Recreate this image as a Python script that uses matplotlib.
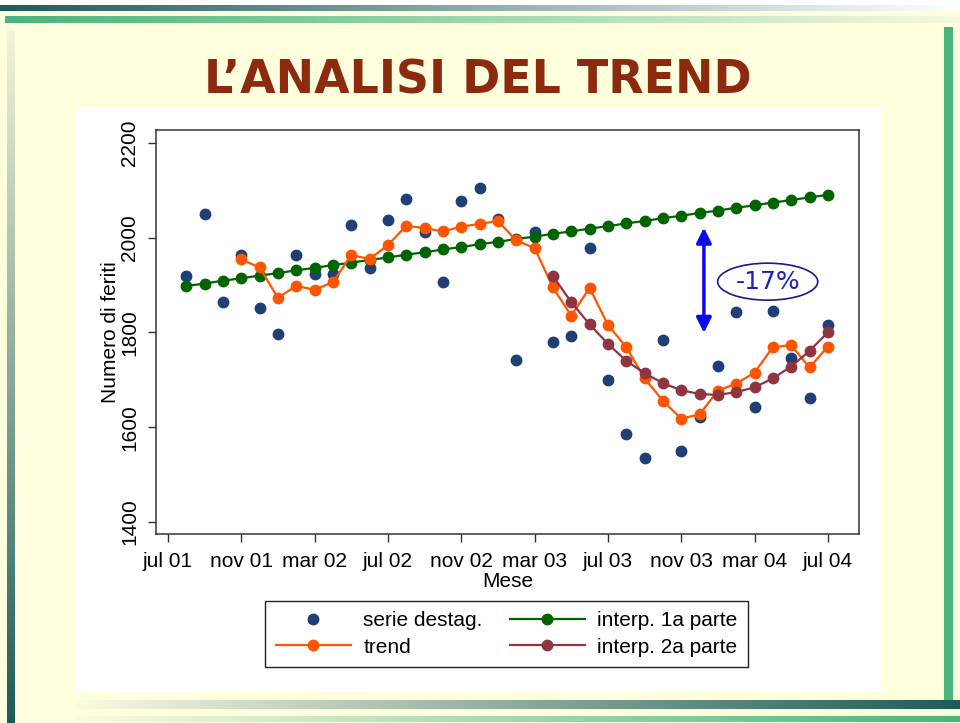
import numpy as np
import matplotlib.pyplot as plt
from matplotlib.patches import Rectangle, Ellipse
from matplotlib.colors import to_rgb

# months counted from jul 2001 (= 0)
months = np.arange(1, 37)
serie_destag = [1919, 2049, 1865, 1963, 1852, 1797, 1963, 1923, 1923, 2027,
                1936, 2037, 2082, 2011, 1906, 2077, 2104, 2039, 1742, 2011,
                1779, 1793, 1978, 1700, 1585, 1534, 1784, 1550, 1622, 1729,
                1842, 1643, 1845, 1745, 1661, 1816]

trend_months = np.arange(4, 37)
trend = [1954, 1937, 1873, 1898, 1890, 1906, 1963, 1955, 1984, 2025,
         2020, 2013, 2023, 2029, 2035, 1994, 1978, 1895, 1835, 1894,
         1816, 1769, 1703, 1656, 1618, 1627, 1677, 1692, 1715, 1769,
         1773, 1726, 1770]

interp1 = [1898, 1903, 1909, 1914, 1920, 1925, 1931, 1936, 1942, 1947,
           1953, 1958, 1964, 1969, 1975, 1980, 1986, 1991, 1997, 2002,
           2008, 2013, 2019, 2024, 2030, 2035, 2041, 2046, 2052, 2057,
           2063, 2068, 2074, 2079, 2085, 2090]

interp2_months = np.arange(21, 37)
interp2 = [1919, 1864, 1817, 1776, 1740, 1714, 1693, 1678, 1670, 1668,
           1674, 1684, 1703, 1728, 1761, 1800]

tick_pos = np.arange(0, 37, 4)
tick_labels = ['jul 01', 'nov 01', 'mar 02', 'jul 02', 'nov 02', 'mar 03',
               'jul 03', 'nov 03', 'mar 04', 'jul 04']

cream = '#ffffde'
teal = '#1d5c58'
green = '#48b57e'

fig = plt.figure(figsize=(9.6, 7.23), dpi=100)
fig.patch.set_facecolor('white')

# slide background, drawn in pixel coordinates
bg = fig.add_axes([0, 0, 1, 1])
bg.axis('off')


def gradient(x0, x1, y0, y1, c1, c2, vertical=False):
    t = np.linspace(0, 1, 256)[:, None]
    img = np.array(to_rgb(c1)) * (1 - t) + np.array(to_rgb(c2)) * t
    img = img[:, None, :] if vertical else img[None, :, :]
    bg.imshow(img, extent=[x0, x1, y1, y0], aspect='auto',
              interpolation='bilinear', zorder=2)


bg.add_patch(Rectangle((0, 11), 960, 712, color=cream, lw=0, zorder=1))
gradient(0, 960, 5, 11, teal, 'white')
gradient(5, 960, 16, 23, green, '#f6f9de')
gradient(7, 15, 30, 723, '#f4f4d8', teal, vertical=True)
bg.add_patch(Rectangle((944, 27), 9, 673, color=green, lw=0, zorder=2))
gradient(75, 960, 700, 709, '#fbfbe0', teal)
gradient(75, 960, 716, 722, '#fbfbe0', green)
bg.add_patch(Rectangle((76, 107), 806, 585, color='white', lw=0, zorder=3))
bg.set_xlim(0, 960)
bg.set_ylim(723, 0)

fig.text(478 / 960, 1 - 93 / 723, 'L\u2019ANALISI DEL TREND', ha='center', va='baseline',
         fontsize=33, fontweight='bold', color='#8b2a0e', family='DejaVu Sans')

# main chart
ax = fig.add_axes([156 / 960, 1 - 534 / 723, 703 / 960, 404 / 723])
ax.set_facecolor('white')

ms = 7.5
ax.plot(months, serie_destag, 'o', color='#1f3f75', ms=ms, label='serie destag.', zorder=2)
ax.plot(months, interp1, '-o', color='#006400', lw=1.6, ms=ms, label='interp. 1a parte', zorder=3)
ax.plot(trend_months, trend, '-o', color='#ff5500', lw=1.6, ms=ms, label='trend', zorder=4)
ax.plot(interp2_months, interp2, '-o', color='#8f3540', lw=1.6, ms=ms, label='interp. 2a parte', zorder=5)

# the gap between the two interpolations
ax.annotate('', xy=(29.24, 2021), xytext=(29.24, 1799),
            arrowprops=dict(arrowstyle='<|-|>,head_length=0.9,head_width=0.45',
                            color='#0a0af0', lw=2.5, shrinkA=0, shrinkB=0), zorder=6)
ax.add_patch(Ellipse((32.72, 1907), 5.46, 78, fill=False, ec='#1a1a8c', lw=1.2, zorder=6))
ax.text(32.72, 1907, '-17%', ha='center', va='center', fontsize=18,
        color='#2020b8', family='DejaVu Sans', zorder=7)

ax.set_xlim(-0.65, 37.7)
ax.set_ylim(1374.6, 2227)
ax.set_xticks(tick_pos)
ax.set_xticklabels(tick_labels, family='Liberation Sans', fontsize=15)
ax.set_yticks([1400, 1600, 1800, 2000, 2200])
ax.set_yticklabels(['1400', '1600', '1800', '2000', '2200'], rotation=90, va='center',
                   family='Liberation Sans', fontsize=15)
ax.tick_params(axis='x', length=6, width=1, pad=7, color='#333333')
ax.tick_params(axis='y', length=6, width=1, pad=6, color='#333333')
for s in ax.spines.values():
    s.set_color('#333333')
    s.set_linewidth(1.1)

ax.set_xlabel('Mese', family='Liberation Sans', fontsize=15, labelpad=1)
ax.set_ylabel('Numero di feriti', family='Liberation Sans', fontsize=15, labelpad=0)

h, l = ax.get_legend_handles_labels()
order = [0, 2, 1, 3]
leg = fig.legend([h[i] for i in order], [l[i] for i in order], ncol=2,
                 loc='upper center', bbox_to_anchor=(506.5 / 960, 1 - 601 / 723),
                 borderaxespad=0,
                 prop={'family': 'Liberation Sans', 'size': 15},
                 frameon=True, fancybox=False, edgecolor='#222222', framealpha=1,
                 handlelength=3.6, handletextpad=0.6, columnspacing=1.3,
                 labelspacing=0.35, borderpad=0.5)
leg.get_frame().set_linewidth(1.0)

fig.savefig('out.png', dpi=100, facecolor=fig.get_facecolor())
